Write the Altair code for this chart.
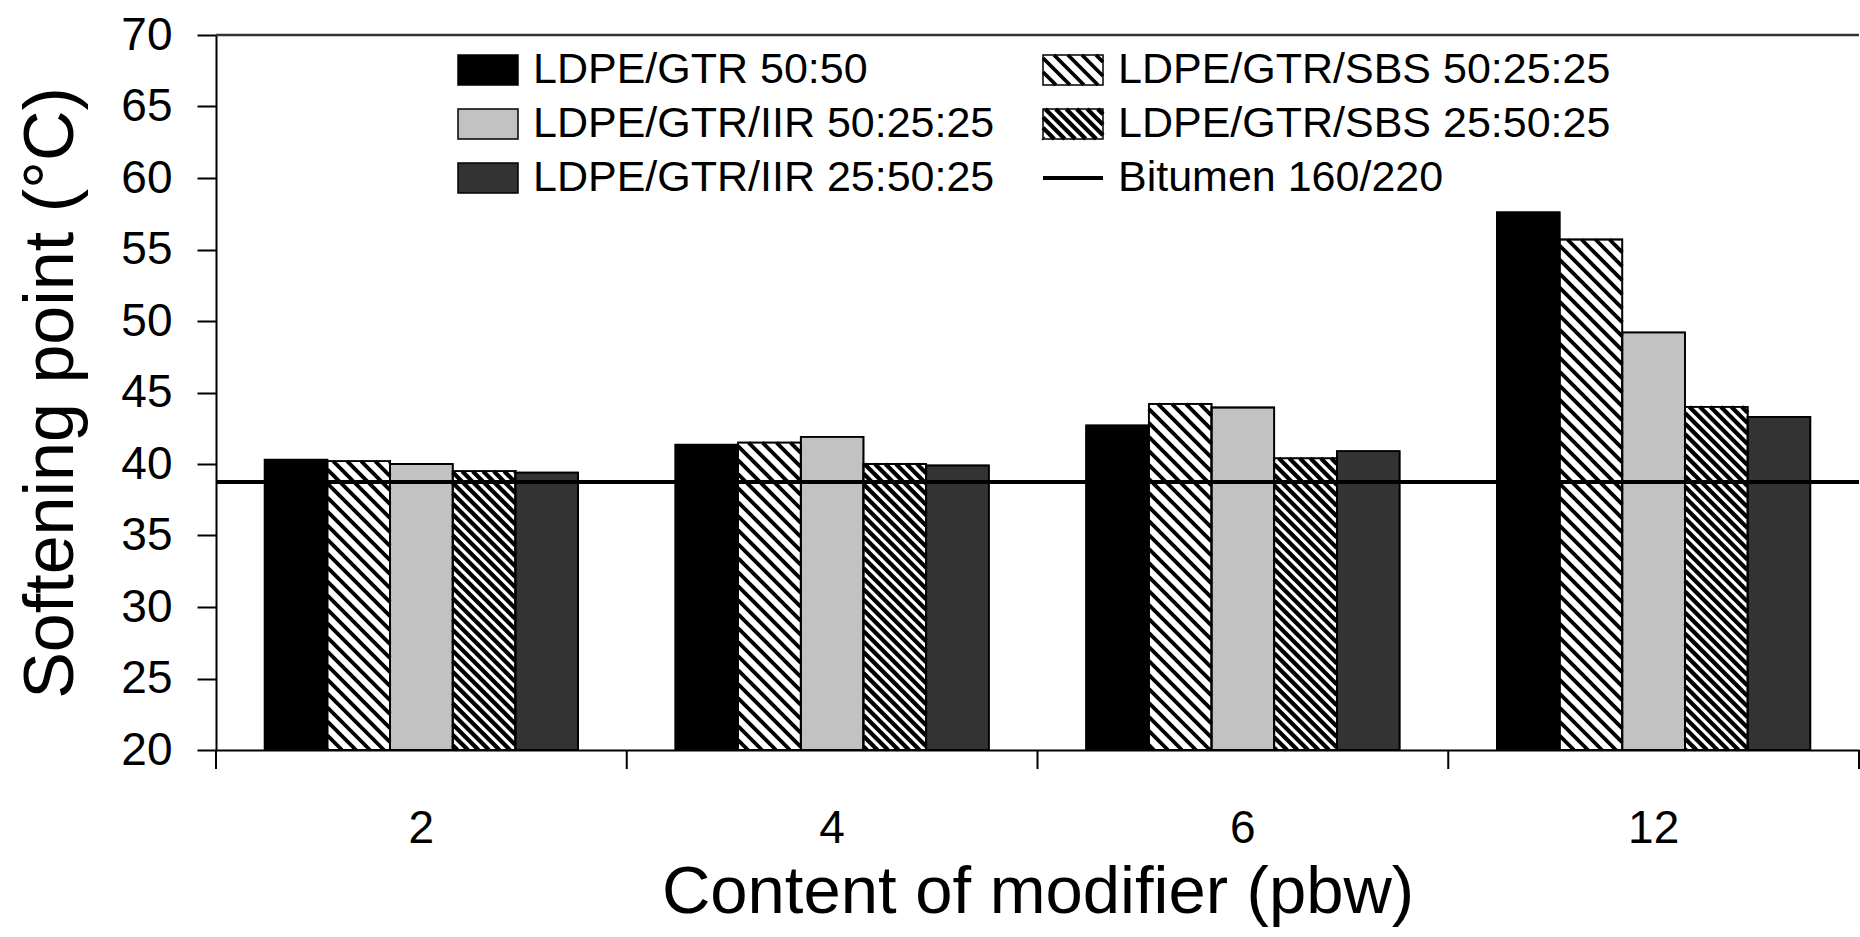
import altair as alt
import numpy as np
import pandas as pd

# ---------------- data ----------------
contents = ["2", "4", "6", "12"]
series = [
    "LDPE/GTR 50:50",
    "LDPE/GTR/SBS 50:25:25",
    "LDPE/GTR/IIR 50:25:25",
    "LDPE/GTR/SBS 25:50:25",
    "LDPE/GTR/IIR 25:50:25",
]
v_ldpe_gtr = [40.3, 41.35, 42.7, 57.6]
v_sbs_50 = [40.2, 41.5, 44.2, 55.7]
v_iir_50 = [40.0, 41.9, 43.95, 49.2]
v_sbs_25 = [39.5, 40.0, 40.4, 44.0]
v_iir_25 = [39.4, 39.9, 40.9, 43.3]
values_by_series = [v_ldpe_gtr, v_sbs_50, v_iir_50, v_sbs_25, v_iir_25]
bitumen_value = 38.75
bitumen_label = "Bitumen 160/220"
y_ticks = [20, 25, 30, 35, 40, 45, 50, 55, 60, 65, 70]
X_TITLE = "Content of modifier (pbw)"
Y_TITLE = "Softening point (°C)"

# ---------------- style ----------------
FONT = "Liberation Sans"
fills = ["#000000", "#ffffff", "#c2c2c2", "#ffffff", "#333333"]
hatch_period = {1: 14.0, 3: 10.5}   # series index -> stripe period (px)
hatch_width = {1: 3.8, 3: 4.2}

W, H = 1643, 715
PAD = {"left": 216, "top": 35, "right": 1, "bottom": 187}
Y0, Y1 = y_ticks[0], y_ticks[-1]
PAD_INNER = 0.237
PAD_OUTER = PAD_INNER / 2
TICK = 19

step = W / len(contents)
bar_w = step * (1 - PAD_INNER) / len(series)
py = H / (Y1 - Y0)

rows = []
for j, s in enumerate(series):
    for i, c in enumerate(contents):
        rows.append({"content": c, "series": s, "value": values_by_series[j][i]})
df = pd.DataFrame(rows)

# hatch line segments for the patterned bars (computed in data units)
hatch_rows = []
for j, period in hatch_period.items():
    for i in range(len(contents)):
        left = step * (i + PAD_OUTER) + j * bar_w
        hp = (values_by_series[j][i] - Y0) * py
        c = period - (left % period)
        while c < bar_w + hp:
            ua = max(0.0, c - hp)
            ub = min(bar_w, c)
            if ub - ua > 0.5:
                hatch_rows.append({
                    "hx": (left + ua) / step, "hx2": (left + ub) / step,
                    "hy": Y0 + (c - ua) / py, "hy2": Y0 + (c - ub) / py,
                    "w": hatch_width[j],
                })
            c += period
hatch_df = pd.DataFrame(hatch_rows)

# group boundaries for the x-axis ticks
boundary_df = pd.DataFrame({"b": list(range(len(contents) + 1))})

# manual legend layout (pixels relative to plot area)
leg_sym_x = [242, 827]
leg_row_y = [35, 89, 143]
SYM_W, SYM_H, TXT_GAP = 60, 30, 15
entries = series + [bitumen_label]
leg_rect, leg_text, leg_hatch, leg_line = [], [], [], []
for k, name in enumerate(entries):
    col, row = k % 2, k // 2
    x0 = leg_sym_x[col]
    yc = leg_row_y[row]
    leg_text.append({"tx": x0 + SYM_W + TXT_GAP, "ty": yc, "name": name})
    if k < len(series):
        leg_rect.append({"lx": x0, "lx2": x0 + SYM_W, "ly": yc - SYM_H / 2,
                         "ly2": yc + SYM_H / 2, "fill": fills[k]})
        if k in hatch_period:
            p = hatch_period[k]
            sy0, sy1 = yc - SYM_H / 2, yc + SYM_H / 2
            cc = sy0 - (x0 + SYM_W) + p / 2
            while cc < sy1 - x0:
                xa = max(x0, sy0 - cc)
                xb = min(x0 + SYM_W, sy1 - cc)
                if xb - xa > 0.5:
                    leg_hatch.append({"lx": xa, "lx2": xb, "ly": xa + cc,
                                      "ly2": xb + cc, "w": hatch_width[k]})
                cc += p
    else:
        leg_line.append({"lx": x0, "lx2": x0 + SYM_W, "ly": yc, "ly2": yc})

# ---------------- chart ----------------
y_scale = alt.Scale(domain=[Y0, Y1], nice=False, zero=False)
unit_scale = alt.Scale(domain=[0, len(contents)], nice=False, zero=False)

bars = alt.Chart(df).mark_bar(stroke="black", strokeWidth=1.5).encode(
    x=alt.X("content:N", sort=contents, title=X_TITLE,
            scale=alt.Scale(paddingInner=PAD_INNER, paddingOuter=PAD_OUTER),
            axis=alt.Axis(tickSize=TICK, tickOpacity=0,
                          domainColor="black", domainWidth=2, labelAngle=0,
                          labelFont=FONT, labelFontSize=46, labelColor="black",
                          labelPadding=37, titleFont=FONT, titleFontSize=67,
                          titleFontWeight="normal", titleColor="black",
                          titlePadding=8, titleLimit=2000)),
    xOffset=alt.XOffset("series:N", sort=series,
                        scale=alt.Scale(paddingInner=0, paddingOuter=0)),
    y=alt.Y("value:Q", scale=y_scale, title=Y_TITLE,
            axis=alt.Axis(values=y_ticks, grid=False, tickSize=TICK, tickWidth=2,
                          tickColor="black", domainColor="black", domainWidth=2,
                          labelFont=FONT, labelFontSize=46, labelColor="black",
                          labelPadding=25, titleFont=FONT, titleFontSize=70,
                          titleFontWeight="normal", titleColor="black",
                          titlePadding=33, titleLimit=2000)),
    y2=alt.datum(Y0),
    fill=alt.Fill("series:N", sort=series,
                  scale=alt.Scale(domain=series, range=fills), legend=None),
)

hatch = alt.Chart(hatch_df).mark_rule(color="black").encode(
    x=alt.X("hx:Q", scale=unit_scale, axis=None),
    x2="hx2:Q",
    y=alt.Y("hy:Q", title=Y_TITLE),
    y2="hy2:Q",
    strokeWidth=alt.StrokeWidth("w:Q", scale=None),
)

outline = alt.Chart(df).mark_bar(stroke="black", strokeWidth=1.8, fillOpacity=0).encode(
    x=alt.X("content:N", sort=contents,
            scale=alt.Scale(paddingInner=PAD_INNER, paddingOuter=PAD_OUTER), axis=None),
    xOffset=alt.XOffset("series:N", sort=series,
                        scale=alt.Scale(paddingInner=0, paddingOuter=0)),
    y=alt.Y("value:Q", title=Y_TITLE),
    y2=alt.datum(Y0),
)

xticks = alt.Chart(boundary_df).mark_rule(color="black", strokeWidth=2).encode(
    x=alt.X("b:Q", scale=unit_scale, axis=None),
    y=alt.value(H),
    y2=alt.value(H + TICK),
)

bitumen = alt.Chart(pd.DataFrame({"b": [bitumen_value]})).mark_rule(
    color="black", strokeWidth=4).encode(y=alt.Y("b:Q", title=Y_TITLE))

top_frame = alt.Chart(pd.DataFrame({"t": [Y1]})).mark_rule(
    color="#333333", strokeWidth=2.5).encode(y=alt.Y("t:Q", title=Y_TITLE))

lrect = alt.Chart(pd.DataFrame(leg_rect)).mark_rect(stroke="black", strokeWidth=1.5).encode(
    x=alt.X("lx:Q", scale=None), x2="lx2:Q",
    y=alt.Y("ly:Q", scale=None), y2="ly2:Q",
    fill=alt.Fill("fill:N", scale=None),
)
lhatch = alt.Chart(pd.DataFrame(leg_hatch)).mark_rule(color="black").encode(
    x=alt.X("lx:Q", scale=None), x2="lx2:Q",
    y=alt.Y("ly:Q", scale=None), y2="ly2:Q",
    strokeWidth=alt.StrokeWidth("w:Q", scale=None),
)
lline = alt.Chart(pd.DataFrame(leg_line)).mark_rule(color="black", strokeWidth=4).encode(
    x=alt.X("lx:Q", scale=None), x2="lx2:Q",
    y=alt.Y("ly:Q", scale=None), y2="ly2:Q",
)
ltext = alt.Chart(pd.DataFrame(leg_text)).mark_text(
    align="left", baseline="middle", font=FONT, fontSize=43, color="black").encode(
    x=alt.X("tx:Q", scale=None), y=alt.Y("ty:Q", scale=None), text="name:N",
)

chart = alt.layer(
    bars, hatch, outline, xticks, bitumen, top_frame, lrect, lhatch, lline, ltext
).resolve_scale(x="independent").properties(
    width=W, height=H, padding=PAD,
    autosize=alt.AutoSizeParams(type="none"),
    background="white",
).configure_view(stroke=None)

chart.save("out.html", embed_options={"renderer": "svg", "actions": False})
